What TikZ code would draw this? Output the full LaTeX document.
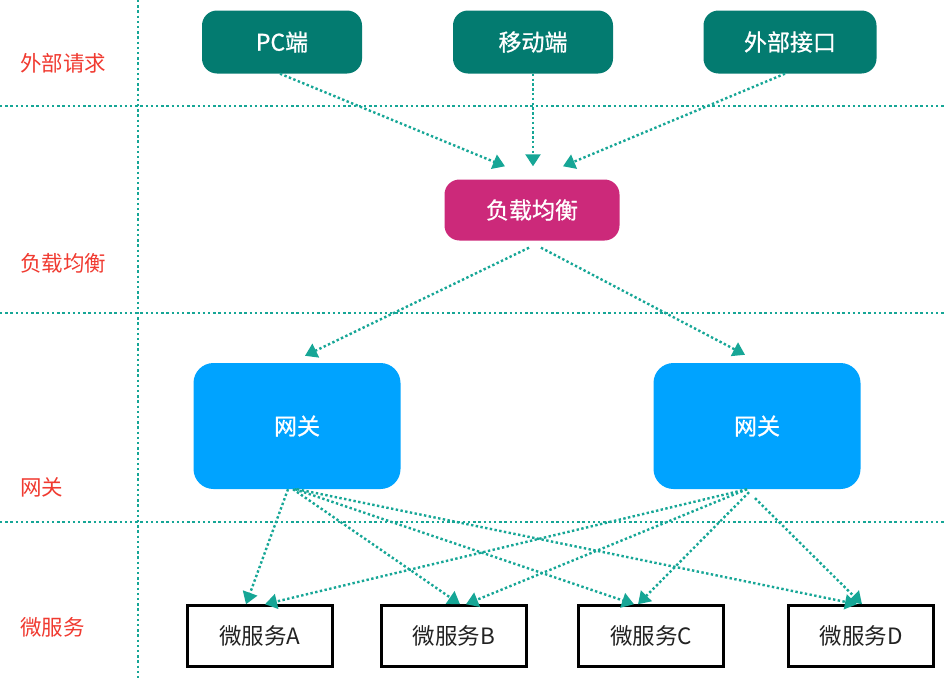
\documentclass[tikz,border=0pt]{standalone}
\usepackage{fontspec}
\setmainfont{Noto Sans CJK SC}
\newfontfamily\boxfont[FakeBold=0.8]{Noto Sans CJK SC}
\usetikzlibrary{arrows.meta,calc}
\definecolor{tealbox}{RGB}{3,123,112}
\definecolor{lbbox}{RGB}{204,41,122}
\definecolor{gwbox}{RGB}{0,163,255}
\definecolor{flow}{RGB}{22,166,150}
\definecolor{layerred}{RGB}{240,58,48}
\definecolor{svctext}{RGB}{34,34,34}
\begin{document}
\begin{tikzpicture}[x=1pt,y=-1pt,
  client/.style={fill=tealbox,rounded corners=15pt,text=white,inner sep=0pt,
    minimum height=63pt,font=\boxfont\fontsize{23}{27}\selectfont},
  balancer/.style={fill=lbbox,rounded corners=15pt,text=white,inner sep=0pt,
    minimum width=175pt,minimum height=61pt,font=\boxfont\fontsize{23}{27}\selectfont},
  gateway/.style={fill=gwbox,rounded corners=20pt,text=white,inner sep=0pt,
    minimum width=207pt,minimum height=126pt,font=\boxfont\fontsize{23}{27}\selectfont},
  service/.style={draw=black,line width=2.5pt,fill=white,text=svctext,inner sep=0pt,
    minimum width=145pt,minimum height=61pt,font=\fontsize{22.5}{26}\selectfont},
  layer/.style={text=layerred,anchor=west,inner sep=0pt,font=\fontsize{21.5}{25}\selectfont},
  divider/.style={flow,line width=2.4pt,dash pattern=on 2.4pt off 2.8pt},
  link/.style={flow,line width=2.4pt,dash pattern=on 2.4pt off 2.4pt,
    -{Triangle[width=15pt,length=12pt]}}
]
\useasboundingbox (0,0) rectangle (946,680);

% layer dividers
\draw[divider] (138,0) -- (138,680);
\draw[divider] (0,106) -- (946,106);
\draw[divider] (0,313) -- (946,313);
\draw[divider] (0,522) -- (946,522);

% layer labels
\node[layer] (l1) at (20,63) {外部请求};
\node[layer] (l2) at (20,263) {负载均衡};
\node[layer] (l3) at (20,487) {网关};
\node[layer] (l4) at (20,627) {微服务};

% clients
\node[client,minimum width=160pt] (pc) at (282,42) {PC端};
\node[client,minimum width=160pt] (mob) at (533,42) {移动端};
\node[client,minimum width=173pt] (ext) at (790,42) {外部接口};

% load balancer
\node[balancer] (lb) at (532,210) {负载均衡};

% gateways
\node[gateway] (gw1) at (297,426) {网关};
\node[gateway] (gw2) at (757,426) {网关};

% services
\node[service] (sa) at (260,636) {微服务A};
\node[service] (sb) at (454,636) {微服务B};
\node[service] (sc) at (651,636) {微服务C};
\node[service] (sd) at (861,636) {微服务D};

% client -> balancer
\draw[link] ([xshift=-2pt]pc.south) -- ([xshift=-27pt,yshift=13pt]lb.north);
\draw[link] (mob.south) -- ([xshift=1pt,yshift=13pt]lb.north);
\draw[link] ([xshift=-5pt]ext.south) -- ([xshift=31pt,yshift=13pt]lb.north);

% balancer -> gateways
\draw[link] ([xshift=-3pt,yshift=-7pt]lb.south) -- ([xshift=8pt,yshift=7pt]gw1.north);
\draw[link] ([xshift=9pt,yshift=-7pt]lb.south) -- ([xshift=-12pt,yshift=8pt]gw2.north);

% gateways -> services
\draw[link] ([xshift=-9pt]gw1.south) -- ([xshift=-14pt]sa.north);
\draw[link] ([xshift=-4pt]gw1.south) -- ([xshift=6pt]sb.north);
\draw[link] ([xshift=-2pt]gw1.south) -- ([xshift=-17pt]sc.north);
\draw[link] (gw1.south) -- ([xshift=-4pt]sd.north);
\draw[link] ([xshift=-10pt]gw2.south) -- ([xshift=5pt]sa.north);
\draw[link] ([xshift=-10pt]gw2.south) -- ([xshift=12pt]sb.north);
\draw[link] ([xshift=-8pt,yshift=-3pt]gw2.south) -- ([xshift=-13pt]sc.north);
\draw[link] ([xshift=-2pt,yshift=-9pt]gw2.south) -- ([xshift=1pt]sd.north);
\end{tikzpicture}
\end{document}
